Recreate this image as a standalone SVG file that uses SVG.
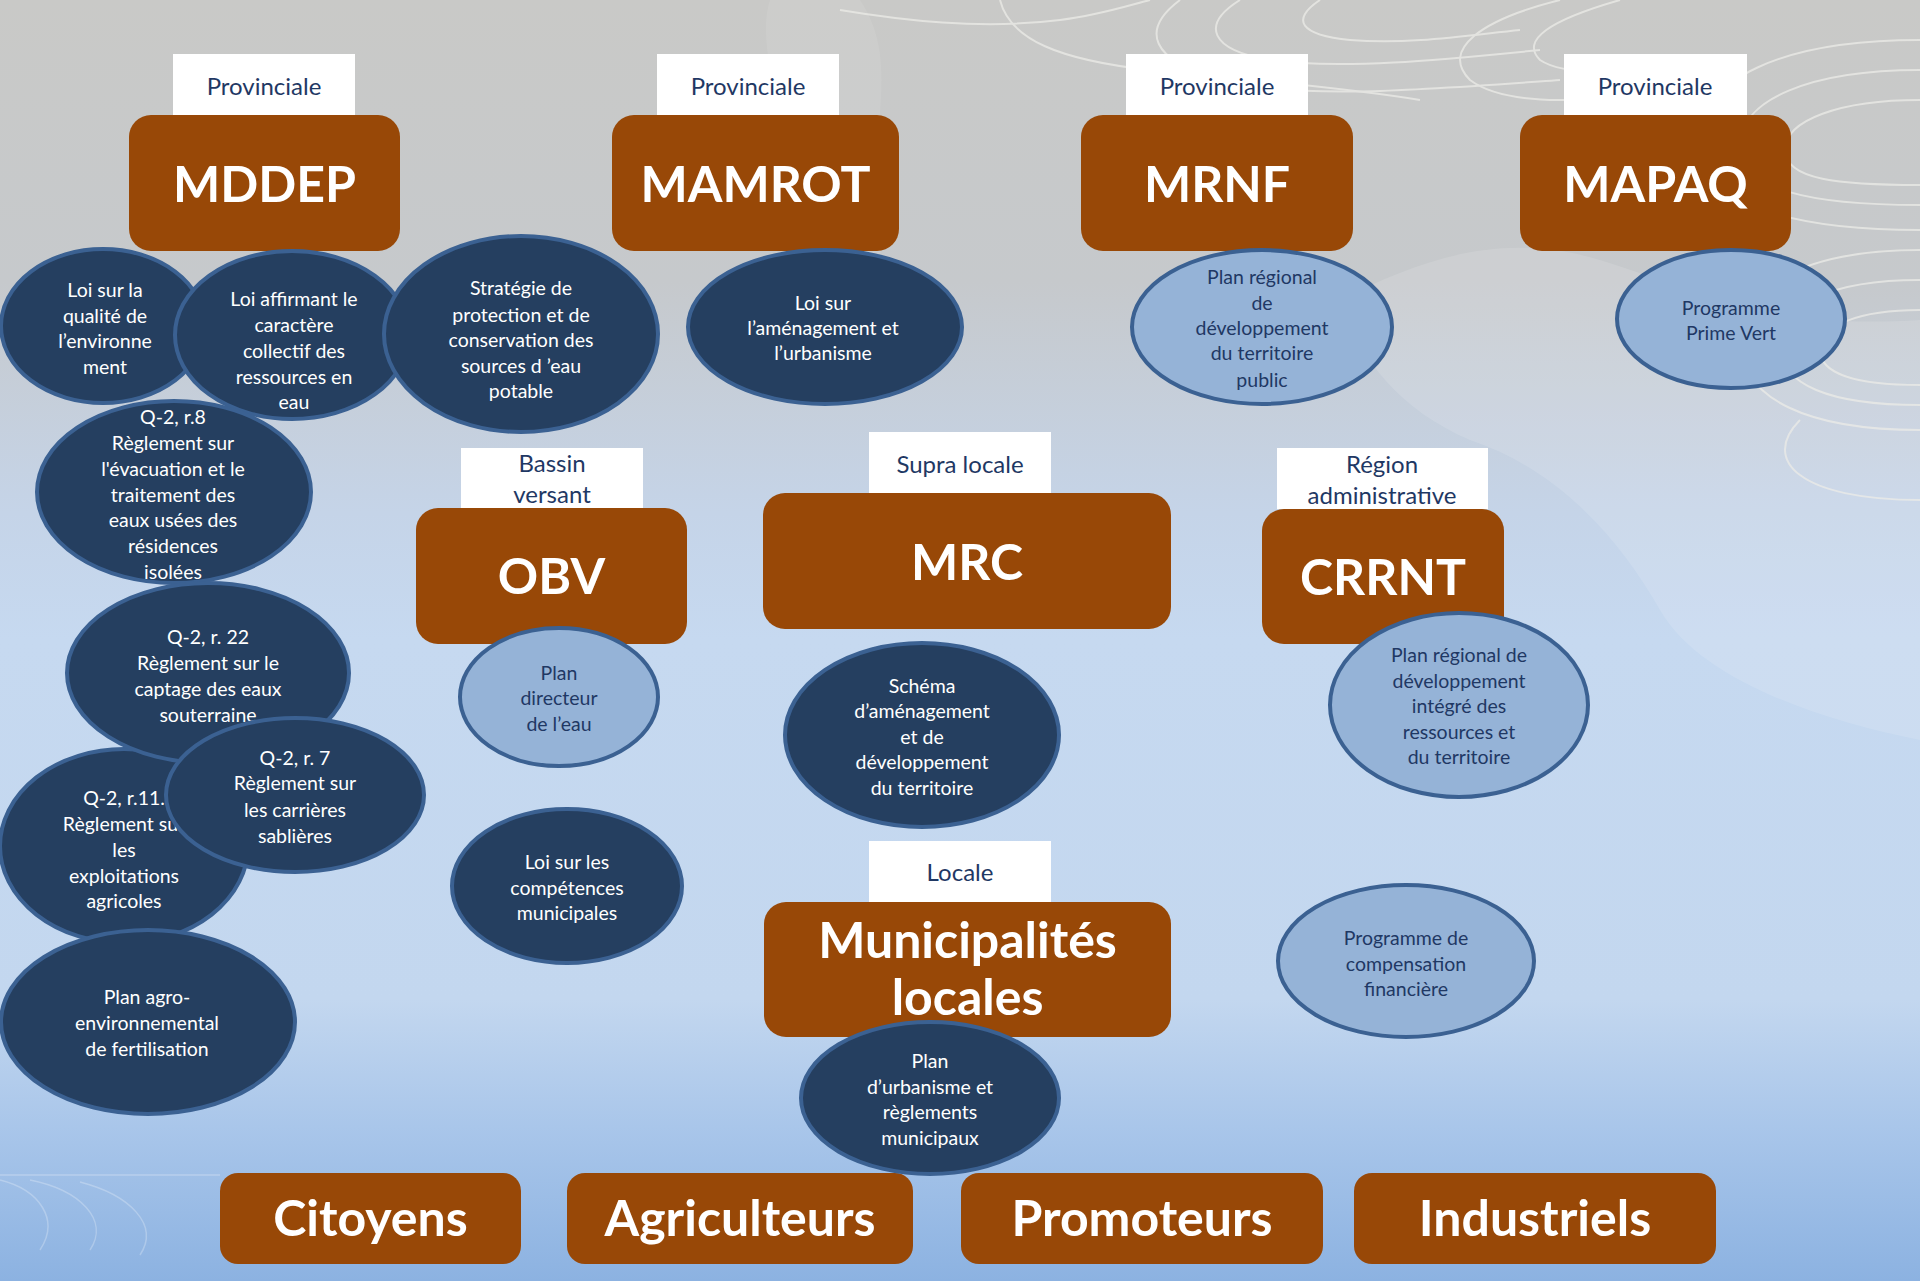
<svg xmlns="http://www.w3.org/2000/svg" width="1920" height="1281" viewBox="0 0 1920 1281">
<defs>
<linearGradient id="bg" x1="0" y1="0" x2="0" y2="1">
<stop offset="0" stop-color="#c9c9c7"/>
<stop offset="0.22" stop-color="#c6c9cc"/>
<stop offset="0.4" stop-color="#c5d4e8"/>
<stop offset="0.5" stop-color="#c6d9f0"/>
<stop offset="0.78" stop-color="#c3d7ef"/>
<stop offset="0.88" stop-color="#a9c6ea"/>
<stop offset="1" stop-color="#8cb2e1"/>
</linearGradient>
<style>
.lbl{fill:#ffffff}
.lt{font-family:Lato,"Open Sans",sans-serif;font-size:24px;fill:#1f3864;text-anchor:middle}
.box{fill:#984807}
.bt{font-family:Lato,"Open Sans",sans-serif;font-weight:bold;font-size:50px;fill:#ffffff;text-anchor:middle}
.ed{fill:#253f60;stroke:#3b6192;stroke-width:4}
.el{fill:#95b3d7;stroke:#3b6192;stroke-width:4}
.tw{font-family:Lato,"Open Sans",sans-serif;font-size:19.5px;fill:#ffffff;text-anchor:middle}
.tn{font-family:Lato,"Open Sans",sans-serif;font-size:19.5px;fill:#1f3864;text-anchor:middle}
.topo{fill:none;stroke:#ecece8;stroke-width:2;opacity:0.75}
</style>
</defs>

<g id="background">
<rect x="0" y="0" width="1920" height="1281" fill="url(#bg)"/>
<path d="M1340,300 C1420,260 1500,230 1600,260 C1700,290 1760,330 1920,320 L1920,740 C1820,720 1700,680 1660,610 C1620,540 1560,470 1470,440 C1400,410 1360,360 1340,300 Z" fill="#ffffff" opacity="0.12"/>
<path d="M770,0 L860,0 C900,60 870,120 880,200 C890,300 850,360 820,330 C780,280 800,200 780,120 C770,70 760,30 770,0 Z" fill="#ffffff" opacity="0.08"/>
<g class="topo">
<path d="M1920,40 C1780,40 1700,80 1700,140 C1700,200 1780,230 1920,230"/>
<path d="M1920,70 C1810,70 1740,100 1740,145 C1740,190 1810,205 1920,205"/>
<path d="M1920,100 C1840,100 1785,120 1785,150 C1785,180 1840,185 1920,185"/>
<path d="M1920,250 C1800,250 1740,290 1740,340 C1740,400 1810,430 1920,430"/>
<path d="M1920,280 C1830,280 1780,305 1780,345 C1780,385 1830,405 1920,405"/>
<path d="M1920,310 C1860,310 1820,325 1820,350 C1820,375 1860,385 1920,385"/>
<path d="M1560,0 C1480,20 1440,50 1470,80 C1510,110 1600,100 1700,90"/>
<path d="M1620,0 C1550,20 1520,40 1540,60 C1570,80 1640,70 1720,60"/>
<path d="M1180,0 C1140,30 1150,60 1220,80 C1300,100 1420,90 1560,80"/>
<path d="M1240,0 C1200,25 1210,50 1270,60 C1340,70 1440,60 1540,50"/>
<path d="M1320,0 C1290,20 1300,35 1350,40 C1410,45 1470,35 1520,30"/>
<path d="M840,10 C900,20 980,30 1060,20 C1100,15 1130,5 1150,0"/>
<path d="M1000,0 C1010,40 1060,60 1150,70 C1260,80 1360,90 1420,100"/>
<path d="M1800,420 C1760,460 1800,500 1920,500"/>
<path d="M1740,130 C1720,90 1660,80 1600,120"/>
</g>
<g opacity="0.25" fill="none" stroke="#ffffff" stroke-width="1.5">
<path d="M0,1180 C40,1190 60,1220 40,1250"/>
<path d="M30,1180 C80,1190 110,1220 90,1250"/>
<path d="M80,1182 C130,1195 160,1225 140,1255"/>
<path d="M0,1175 L220,1175"/>
</g>
</g>

<g id="n-provinciale-1"><rect class="lbl" x="173" y="54" width="182" height="61"/><text class="lt" x="264" y="95">Provinciale</text></g>
<g id="n-provinciale-2"><rect class="lbl" x="657" y="54" width="182" height="61"/><text class="lt" x="748" y="95">Provinciale</text></g>
<g id="n-provinciale-3"><rect class="lbl" x="1126" y="54" width="182" height="61"/><text class="lt" x="1217" y="95">Provinciale</text></g>
<g id="n-provinciale-4"><rect class="lbl" x="1564" y="54" width="183" height="61"/><text class="lt" x="1655" y="95">Provinciale</text></g>
<g id="n-bassin"><rect class="lbl" x="461" y="448" width="182" height="60"/><text class="lt" x="552" y="472">Bassin</text><text class="lt" x="552" y="503">versant</text></g>
<g id="n-supra"><rect class="lbl" x="869" y="432" width="182" height="61"/><text class="lt" x="960" y="473">Supra locale</text></g>
<g id="n-region"><rect class="lbl" x="1277" y="448" width="211" height="61"/><text class="lt" x="1382" y="473">Région</text><text class="lt" x="1382" y="504">administrative</text></g>
<g id="n-locale"><rect class="lbl" x="869" y="841" width="182" height="61"/><text class="lt" x="960" y="881">Locale</text></g>

<g id="n-mddep"><rect class="box" x="129" y="115" width="271" height="136" rx="22"/><text class="bt" x="264.5" y="202">MDDEP</text></g>
<g id="n-mamrot"><rect class="box" x="612" y="115" width="287" height="136" rx="22"/><text class="bt" x="755.5" y="202">MAMROT</text></g>
<g id="n-mrnf"><rect class="box" x="1081" y="115" width="272" height="136" rx="22"/><text class="bt" x="1217" y="202">MRNF</text></g>
<g id="n-mapaq"><rect class="box" x="1520" y="115" width="271" height="136" rx="22"/><text class="bt" x="1655.5" y="202">MAPAQ</text></g>
<g id="n-obv"><rect class="box" x="416" y="508" width="271" height="136" rx="22"/><text class="bt" x="551.5" y="594">OBV</text></g>
<g id="n-mrc"><rect class="box" x="763" y="493" width="408" height="136" rx="22"/><text class="bt" x="967" y="580">MRC</text></g>
<g id="n-crrnt"><rect class="box" x="1262" y="509" width="242" height="135" rx="22"/><text class="bt" x="1383" y="595">CRRNT</text></g>
<g id="n-municipalites"><rect class="box" x="764" y="902" width="407" height="135" rx="22"/><text class="bt" x="967.5" y="958" font-size="48">Municipalités</text><text class="bt" x="967.5" y="1015" font-size="48">locales</text></g>
<g id="n-citoyens"><rect class="box" x="220" y="1173" width="301" height="91" rx="18"/><text class="bt" x="370.5" y="1236" font-size="48">Citoyens</text></g>
<g id="n-agriculteurs"><rect class="box" x="567" y="1173" width="346" height="91" rx="18"/><text class="bt" x="740" y="1236" font-size="48">Agriculteurs</text></g>
<g id="n-promoteurs"><rect class="box" x="961" y="1173" width="362" height="91" rx="18"/><text class="bt" x="1142" y="1236" font-size="48">Promoteurs</text></g>
<g id="n-industriels"><rect class="box" x="1354" y="1173" width="362" height="91" rx="18"/><text class="bt" x="1535" y="1236" font-size="48">Industriels</text></g>

<g id="n-loi-qualite"><ellipse class="ed" cx="103" cy="326" rx="102" ry="77"/>
<text class="tw" x="105"><tspan x="105" y="297">Loi sur la</tspan><tspan x="105" y="323">qualité de</tspan><tspan x="105" y="348">l’environne</tspan><tspan x="105" y="374">ment</tspan></text></g>
<g id="n-loi-affirmant"><ellipse class="ed" cx="292" cy="335" rx="117" ry="84"/>
<text class="tw"><tspan x="294" y="306">Loi affirmant le</tspan><tspan x="294" y="332">caractère</tspan><tspan x="294" y="358">collectif des</tspan><tspan x="294" y="384">ressources en</tspan><tspan x="294" y="409">eau</tspan></text></g>
<g id="n-strategie"><ellipse class="ed" cx="521" cy="334" rx="137" ry="98"/>
<text class="tw"><tspan x="521" y="295">Stratégie de</tspan><tspan x="521" y="322">protection et de</tspan><tspan x="521" y="347">conservation des</tspan><tspan x="521" y="373">sources d ’eau</tspan><tspan x="521" y="398">potable</tspan></text></g>
<g id="n-loi-amenagement"><ellipse class="ed" cx="825" cy="327" rx="137" ry="77"/>
<text class="tw"><tspan x="823" y="310">Loi sur</tspan><tspan x="823" y="335">l’aménagement et</tspan><tspan x="823" y="360">l’urbanisme</tspan></text></g>
<g id="n-plan-regional-public"><ellipse class="el" cx="1262" cy="327" rx="130" ry="77"/>
<text class="tn"><tspan x="1262" y="284">Plan régional</tspan><tspan x="1262" y="310">de</tspan><tspan x="1262" y="335">développement</tspan><tspan x="1262" y="360">du territoire</tspan><tspan x="1262" y="387">public</tspan></text></g>
<g id="n-prime-vert"><ellipse class="el" cx="1731" cy="319" rx="114" ry="69"/>
<text class="tn"><tspan x="1731" y="315">Programme</tspan><tspan x="1731" y="340">Prime Vert</tspan></text></g>

<g id="n-q2-r8"><ellipse class="ed" cx="174" cy="492" rx="137" ry="91"/>
<text class="tw"><tspan x="173" y="424">Q-2, r.8</tspan><tspan x="173" y="450">Règlement sur</tspan><tspan x="173" y="476">l'évacuation et le</tspan><tspan x="173" y="502">traitement des</tspan><tspan x="173" y="527">eaux usées des</tspan><tspan x="173" y="553">résidences</tspan><tspan x="173" y="579">isolées</tspan></text></g>
<g id="n-q2-r11"><ellipse class="ed" cx="124" cy="846" rx="124" ry="97"/>
<text class="tw"><tspan x="124" y="805">Q-2, r.11.</tspan><tspan x="124" y="831">Règlement sur</tspan><tspan x="124" y="857">les</tspan><tspan x="124" y="883">exploitations</tspan><tspan x="124" y="908">agricoles</tspan></text></g>
<g id="n-q2-r22"><ellipse class="ed" cx="208" cy="673" rx="141" ry="90"/>
<text class="tw"><tspan x="208" y="644">Q-2, r. 22</tspan><tspan x="208" y="670">Règlement sur le</tspan><tspan x="208" y="696">captage des eaux</tspan><tspan x="208" y="722">souterraine</tspan></text></g>
<g id="n-q2-r7"><ellipse class="ed" cx="295" cy="795" rx="129" ry="77"/>
<text class="tw"><tspan x="295" y="765">Q-2, r. 7</tspan><tspan x="295" y="790">Règlement sur</tspan><tspan x="295" y="817">les carrières</tspan><tspan x="295" y="843">sablières</tspan></text></g>
<g id="n-plan-agro"><ellipse class="ed" cx="148" cy="1022" rx="147" ry="92"/>
<text class="tw"><tspan x="147" y="1004">Plan agro-</tspan><tspan x="147" y="1030">environnemental</tspan><tspan x="147" y="1056">de fertilisation</tspan></text></g>

<g id="n-plan-directeur"><ellipse class="el" cx="559" cy="697" rx="99" ry="69"/>
<text class="tn"><tspan x="559" y="680">Plan</tspan><tspan x="559" y="705">directeur</tspan><tspan x="559" y="731">de l’eau</tspan></text></g>
<g id="n-loi-competences"><ellipse class="ed" cx="567" cy="886" rx="115" ry="77"/>
<text class="tw"><tspan x="567" y="869">Loi sur les</tspan><tspan x="567" y="895">compétences</tspan><tspan x="567" y="920">municipales</tspan></text></g>
<g id="n-schema"><ellipse class="ed" cx="922" cy="735" rx="137" ry="92"/>
<text class="tw"><tspan x="922" y="693">Schéma</tspan><tspan x="922" y="718">d’aménagement</tspan><tspan x="922" y="744">et de</tspan><tspan x="922" y="769">développement</tspan><tspan x="922" y="795">du territoire</tspan></text></g>
<g id="n-plan-urbanisme"><ellipse class="ed" cx="930" cy="1098" rx="129" ry="76"/>
<text class="tw"><tspan x="930" y="1068">Plan</tspan><tspan x="930" y="1094">d’urbanisme et</tspan><tspan x="930" y="1119">règlements</tspan><tspan x="930" y="1145">municipaux</tspan></text></g>
<g id="n-plan-regional-integre"><ellipse class="el" cx="1459" cy="705" rx="129" ry="92"/>
<text class="tn"><tspan x="1459" y="662">Plan régional de</tspan><tspan x="1459" y="688">développement</tspan><tspan x="1459" y="713">intégré des</tspan><tspan x="1459" y="739">ressources et</tspan><tspan x="1459" y="764">du territoire</tspan></text></g>
<g id="n-compensation"><ellipse class="el" cx="1406" cy="961" rx="128" ry="76"/>
<text class="tn"><tspan x="1406" y="945">Programme de</tspan><tspan x="1406" y="971">compensation</tspan><tspan x="1406" y="996">financière</tspan></text></g>

<g id="connectors"></g>
</svg>
